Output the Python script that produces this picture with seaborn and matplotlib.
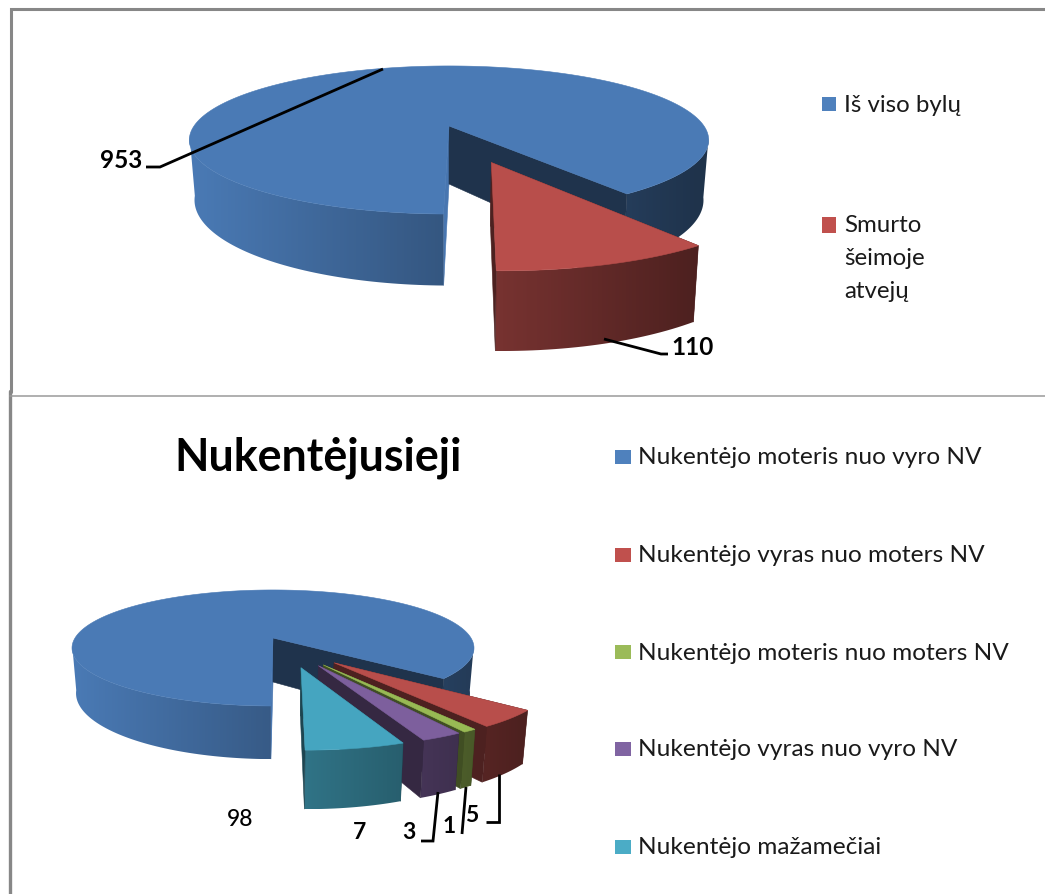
import matplotlib

matplotlib.use("Agg")
import matplotlib.pyplot as plt
import numpy as np
import seaborn as sns
from matplotlib.colors import LinearSegmentedColormap, to_rgb
from matplotlib.patches import Polygon, Rectangle

# Data
case_labels = ["Iš viso bylų", "Smurto\nšeimoje\natvejų"]
case_values = [953, 110]
case_colors = ["#4a7ab5", "#b84e4b"]

victim_title = "Nukentėjusieji"
victim_labels = [
    "Nukentėjo moteris nuo vyro NV",
    "Nukentėjo vyras nuo moters NV",
    "Nukentėjo moteris nuo moters NV",
    "Nukentėjo vyras nuo vyro NV",
    "Nukentėjo mažamečiai",
]
victim_values = [98, 5, 1, 3, 7]
victim_colors = ["#4a7ab5", "#b84e4b", "#98b954", "#7d5f9d", "#45a5c0"]
legend_colors = ["#4f81bd", "#c0504d", "#9bbb59", "#8064a2", "#4bacc6"]

# Layout of the two pies, in pixels of the page
case_pie = dict(cx=449, cy=127, rx=255, ry=71.4, k=0.189, depth=58, x0=190, span=505)
victim_pie = dict(cx=273, cy=639, rx=198, ry=56.3, k=0.172, depth=44, x0=72, span=450)

case_explode = [0, 0.49]
case_dirs = [0, 162]
victim_explode = [0, 0.5, 0.5, 0.5, 0.5]
victim_dirs = [0, 145, 152, 155, 165]

sns.set_theme(style="white")
plt.rcParams["font.family"] = ["Lato", "DejaVu Sans"]

z_next = [2]


def next_z():
    z_next[0] += 1
    return z_next[0]


def project(pie, u, v, z=0.0):
    den = 1 + pie["k"] * v
    x = pie["cx"] + pie["rx"] * u / den * (1 - 0.02 * z)
    y = pie["cy"] - pie["ry"] * v / den + z * pie["depth"] / den
    return x, y


def shaded(color, factor):
    return tuple(c * factor for c in to_rgb(color))


def draw_wall(ax, pie, outline, color):
    # wall gets its shading from a horizontal gradient clipped to its outline
    xs = np.array([p[0] for p in outline])
    ys = np.array([p[1] for p in outline])
    x0, x1 = xs.min(), xs.max()
    grid = np.linspace(x0, x1, 256)
    shade = np.clip(1 - 0.58 * (grid - pie["x0"]) / pie["span"], 0.42, 1)
    cmap = LinearSegmentedColormap.from_list("wall", [shaded(color, 0), shaded(color, 1)])
    im = ax.imshow(
        shade[np.newaxis, :], extent=(x0, x1, ys.max(), ys.min()), aspect="auto",
        cmap=cmap, vmin=0, vmax=1, zorder=next_z(), interpolation="bilinear",
    )
    clip = Polygon(outline, closed=True, transform=ax.transData, fc="none", ec="none")
    ax.add_patch(clip)
    im.set_clip_path(clip)


def draw_slice(ax, pie, start, sweep, color, explode, direction, start_shade=0.42):
    ou = explode * np.sin(np.radians(direction))
    ov = explode * np.cos(np.radians(direction))

    def rim(theta, z=0.0):
        t = np.radians(theta)
        return project(pie, ou + np.sin(t), ov + np.cos(t), z)

    def face(theta, shade):
        c = shaded(color, shade)
        quad = [tip, rim(theta), rim(theta, 1), tip_low]
        ax.add_patch(Polygon(quad, closed=True, fc=c, ec=c, lw=0.4, zorder=next_z()))

    thetas = np.linspace(start, start + sweep, max(int(sweep / 1.2), 8))
    tip, tip_low = project(pie, ou, ov), project(pie, ou, ov, 1)

    # hidden cut face first, then the outer wall, the seen cut face and the top
    face(start, start_shade)

    # only the front of the rim is seen; the back would make the outline cross itself
    front = np.cos(np.radians(thetas)) < -pie["k"] + 0.05
    runs = np.split(thetas, np.flatnonzero(np.diff(front.astype(int))) + 1)
    for run in runs:
        if np.cos(np.radians(run[len(run) // 2])) < -pie["k"] + 0.05 and len(run) > 1:
            outline = [rim(t) for t in run] + [rim(t, 1) for t in run[::-1]]
            draw_wall(ax, pie, outline, color)

    face(start + sweep, 0.42)
    top = [tip] + [rim(t) for t in thetas]
    ax.add_patch(Polygon(top, closed=True, fc=color, ec=color, lw=0.4, zorder=next_z()))


def draw_pie(ax, pie, values, colors, explode, dirs, first_angle):
    total = sum(values)
    angle = first_angle
    for i, value in enumerate(values):
        sweep = 360 * value / total
        draw_slice(
            ax, pie, angle, sweep, colors[i], explode[i], dirs[i],
            start_shade=0.97 if i == 0 else 0.42,
        )
        angle += sweep


def leader(ax, points, lw=2):
    xs, ys = zip(*points)
    ax.plot(xs, ys, color="black", lw=lw, solid_capstyle="butt", solid_joinstyle="miter", zorder=500)


fig = plt.figure(figsize=(10.45, 8.95), dpi=100)
ax = fig.add_axes([0, 0, 1, 1])
ax.axis("off")

# page frame
frame = "#878787"
ax.plot([1045, 11, 11], [9.5, 9.5, 393], color=frame, lw=2.2, solid_joinstyle="miter")
ax.plot([9.5, 9.5], [392, 895], color=frame, lw=2.4)
ax.plot([10, 1045], [396.5, 396.5], color="#9a9a9a", lw=1.1)

# upper chart
draw_pie(ax, case_pie, case_values, case_colors, case_explode, case_dirs, 181)
leader(ax, [(383, 70), (160, 168), (146, 168)])
leader(ax, [(604, 340), (661, 355), (668, 355)])
ax.text(121, 160, str(case_values[0]), fontsize=17.5, fontweight="bold", ha="center", va="center", color="black")
ax.text(693, 347, str(case_values[1]), fontsize=17.5, fontweight="bold", ha="center", va="center", color="black")

ax.add_patch(Rectangle((822, 98), 14, 14, fc=legend_colors[0], ec="none"))
ax.add_patch(Rectangle((822, 218), 14, 16, fc=legend_colors[1], ec="none"))
ax.text(844, 105, case_labels[0], fontsize=17.3, ha="left", va="center", color="#1a1a1a")
for line, y in zip(case_labels[1].split("\n"), [225, 258, 291]):
    ax.text(844, y, line, fontsize=17.3, ha="left", va="center", color="#1a1a1a")

# lower chart
draw_pie(ax, victim_pie, victim_values, victim_colors, victim_explode, victim_dirs, 180.5)
leader(ax, [(438, 793), (433, 842), (421, 842)])
leader(ax, [(466, 788), (462, 835)])
leader(ax, [(499, 775), (499, 823), (486, 823)])
for value, x, y in zip(victim_values, [240, 472, 449, 409, 360], [820, 816, 827, 833, 833]):
    ax.text(x, y, str(value), fontsize=16.5, fontweight="bold" if value != 98 else "medium", ha="center", va="center", color="black")

ax.text(318, 458, victim_title, fontsize=32.2, fontweight="bold", ha="center", va="center", color="black")
for label, color, y in zip(victim_labels, legend_colors, [458, 556, 653, 750, 848]):
    ax.add_patch(Rectangle((615, y - 7), 16, 14, fc=color, ec="none"))
    ax.text(638, y, label, fontsize=17.6, ha="left", va="center", color="#1a1a1a")

ax.set_xlim(0, 1045)
ax.set_ylim(895, 0)
fig.savefig("out.png", dpi=100)
